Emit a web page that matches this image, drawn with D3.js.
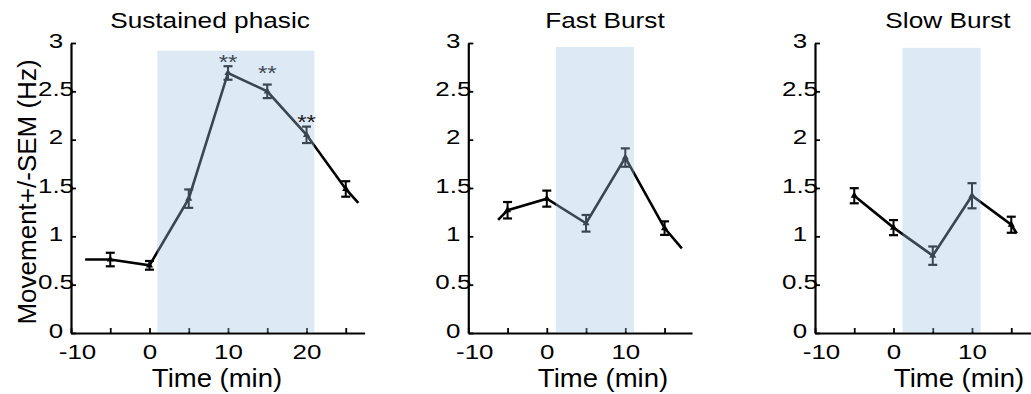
<!DOCTYPE html>
<html>
<head>
<meta charset="utf-8">
<script src="https://cdn.jsdelivr.net/npm/d3@7"></script>
<style>
  body { margin: 0; background: #fff; }
  text { font-family: Arial, "Liberation Sans", sans-serif; fill: #000; }
</style>
</head>
<body>
<div id="chart"></div>
<script>
// Data
const panelTitles = ["Sustained phasic", "Fast Burst", "Slow Burst"];

const sustTime = [-5, 0, 5, 10, 15, 20, 25];
const sustMean = [0.76, 0.70, 1.39, 2.69, 2.50, 2.05, 1.49];
const sustSem = [0.07, 0.045, 0.095, 0.07, 0.07, 0.085, 0.08];
const sustLineStart = [-8.2, 0.76];
const sustLineEnd = [26.6, 1.345];
const sustStim = [1, 21];
const sustSigTime = [10, 15, 20];
const sustSigY = [2.855, 2.74, 2.235];

const fastTime = [-5, 0, 5, 10, 15];
const fastMean = [1.27, 1.39, 1.135, 1.815, 1.085];
const fastSem = [0.085, 0.083, 0.086, 0.095, 0.07];
const fastLineStart = [-6.2, 1.17];
const fastLineEnd = [17.2, 0.876];
const fastStim = [1.15, 11.1];

const slowTime = [-5, 0, 5, 10, 15];
const slowMean = [1.42, 1.09, 0.80, 1.42, 1.12];
const slowSem = [0.078, 0.078, 0.095, 0.13, 0.083];
const slowLineEnd = [15.7, 1.03];
const slowStim = [1.15, 11.1];

const yTicks = [0, 0.5, 1, 1.5, 2, 2.5, 3];
const xTicks = [-10, -5, 0, 5, 10, 15, 20, 25];
const xTickLabels = [-10, 0, 10, 20];

const panels = [
    { title: panelTitles[0], time: sustTime, mean: sustMean, sem: sustSem,
      start: sustLineStart, end: sustLineEnd, stim: sustStim, stimTop: 2.92,
      x0: 71, xMax: 27.4, titleX: 210, xLabelX: 217 },
    { title: panelTitles[1], time: fastTime, mean: fastMean, sem: fastSem,
      start: fastLineStart, end: fastLineEnd, stim: fastStim, stimTop: 2.96,
      x0: 468.3, xMax: 18.5, titleX: 605, xLabelX: 603 },
    { title: panelTitles[2], time: slowTime, mean: slowMean, sem: slowSem,
      start: null, end: slowLineEnd, stim: slowStim, stimTop: 2.95,
      x0: 815, xMax: 18.5, titleX: 948, xLabelX: 959 }
];

const W = 1031, H = 394;
const pxPerUnit = 7.85;

const svg = d3.select("#chart").append("svg")
    .attr("width", W)
    .attr("height", H);

const y = d3.scaleLinear().domain([0, 3]).range([333, 43]);

panels.forEach((p, pi) => {
    const x = d3.scaleLinear()
        .domain([-10, p.xMax])
        .range([p.x0, p.x0 + pxPerUnit * (p.xMax + 10)]);

    const g = svg.append("g");

    // Line through the means, including the cut-off ends
    const pts = p.time.map((t, i) => [t, p.mean[i]]);
    if (p.start) pts.unshift(p.start);
    if (p.end) pts.push(p.end);

    const line = d3.line().x(d => x(d[0])).y(d => y(d[1]));
    g.append("path")
        .datum(pts)
        .attr("fill", "none")
        .attr("stroke", "#000")
        .attr("stroke-width", 2.6)
        .attr("d", line);

    // Error bars
    const eb = g.selectAll(".eb")
        .data(p.time.map((t, i) => ({ t: t, m: p.mean[i], s: p.sem[i] })))
        .enter().append("g");
    eb.append("line")
        .attr("x1", d => x(d.t)).attr("x2", d => x(d.t))
        .attr("y1", d => y(d.m - d.s)).attr("y2", d => y(d.m + d.s))
        .attr("stroke", "#000").attr("stroke-width", 2);
    [-1, 1].forEach(sgn => {
        eb.append("line")
            .attr("x1", d => x(d.t) - 4.5).attr("x2", d => x(d.t) + 4.5)
            .attr("y1", d => y(d.m + sgn * d.s)).attr("y2", d => y(d.m + sgn * d.s))
            .attr("stroke", "#000").attr("stroke-width", 2.2);
    });
    eb.append("path")
        .attr("transform", d => `translate(${x(d.t)},${y(d.m)})`)
        .attr("d", d3.symbol().type(d3.symbolTriangle).size(22))
        .attr("fill", "#000");

    // Significance stars under the shading
    if (pi === 0) {
        sustSigTime.forEach((t, i) => {
            if (i === 2) return;
            g.append("text")
                .attr("text-anchor", "middle")
                .attr("transform", `translate(${x(t)},${y(sustSigY[i]) + 11.6}) scale(1.2,1)`)
                .style("font-size", "20px")
                .text("**");
        });
    }

    // Axes
    const yAxis = g.append("g")
        .attr("transform", `translate(${p.x0},0)`)
        .call(d3.axisLeft(y).tickValues(yTicks).tickSizeInner(-5).tickSizeOuter(0)
            .tickFormat(d3.format("")));
    const xAxis = g.append("g")
        .attr("transform", `translate(0,${y(0)})`)
        .call(d3.axisBottom(x)
            .tickValues(xTicks.filter(d => d <= p.xMax))
            .tickSizeInner(-5).tickSizeOuter(0)
            .tickFormat(d => xTickLabels.includes(d) ? d : ""));

    [yAxis, xAxis].forEach(a => {
        a.select(".domain").attr("stroke", "#000").attr("stroke-width", 2.2);
        a.selectAll(".tick line").attr("stroke", "#000").attr("stroke-width", 1.8);
        a.selectAll(".tick text")
            .attr("fill", "#000")
            .style("font-size", "19.5px")
            .attr("font-family", null);
    });
    yAxis.selectAll(".tick text")
        .attr("x", null).attr("dy", null)
        .attr("text-anchor", "middle")
        .attr("transform", "translate(-15,4) scale(1.33,1)");
    xAxis.selectAll(".tick text")
        .attr("y", null).attr("dy", null)
        .attr("text-anchor", "middle")
        .attr("transform", d => `translate(${d === -10 ? 6 : 0},25.5) scale(1.33,1)`);

    // Stimulation shading drawn on top
    g.append("rect")
        .attr("x", x(p.stim[0]))
        .attr("y", y(p.stimTop))
        .attr("width", x(p.stim[1]) - x(p.stim[0]))
        .attr("height", y(0) - 1.2 - y(p.stimTop))
        .attr("fill", "rgb(160,195,225)")
        .attr("fill-opacity", 0.36);

    if (pi === 0) {
        const t = sustSigTime[2];
        g.append("text")
            .attr("text-anchor", "middle")
            .attr("transform", `translate(${x(t)},${y(sustSigY[2]) + 11.6}) scale(1.2,1)`)
            .style("font-size", "20px")
            .style("fill", "#1a1a1a")
            .text("**");
    }

    // Title and x label
    g.append("text")
        .attr("text-anchor", "middle")
        .attr("transform", `translate(${p.titleX},28) scale(1.22,1)`)
        .style("font-size", "21.5px")
        .text(p.title);

    g.append("text")
        .attr("text-anchor", "middle")
        .attr("transform", `translate(${p.xLabelX},387) scale(1.1,1)`)
        .style("font-size", "25px")
        .text("Time (min)");
});

// Y axis label (first panel only)
svg.append("text")
    .attr("text-anchor", "middle")
    .attr("transform", "translate(36,192) rotate(-90)")
    .style("font-size", "26px")
    .text("Movement+/-SEM (Hz)");
</script>
</body>
</html>
